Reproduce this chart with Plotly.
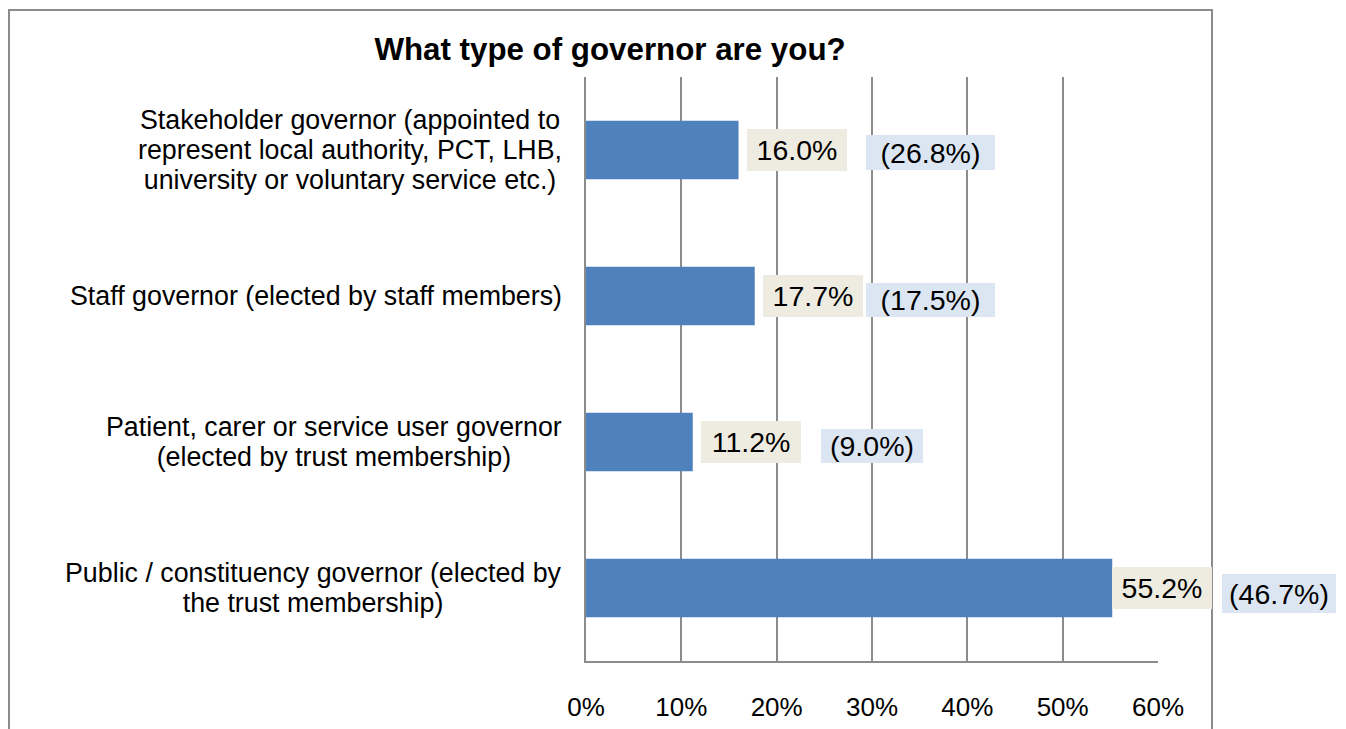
import plotly.graph_objects as go

# Survey data: share of respondents by governor type
categories = [
    "Stakeholder governor (appointed to<br>represent local authority, PCT, LHB,<br>university or voluntary service etc.)",
    "Staff governor (elected by staff members)",
    "Patient, carer or service user governor<br>(elected by trust membership)",
    "Public / constituency governor (elected by<br>the trust membership)",
]
current_pct = [16.0, 17.7, 11.2, 55.2]
previous_pct = [26.8, 17.5, 9.0, 46.7]
tick_values = [0, 10, 20, 30, 40, 50, 60]
tick_labels = ["0%", "10%", "20%", "30%", "40%", "50%", "60%"]

FONT = "Liberation Sans, Arial, sans-serif"
BAR_BLUE = "#4f81bd"
BEIGE = "#eeece1"
PALE_BLUE = "#dce6f2"
GRID = "#8c8c8c"

# plot area in pixels
L, R, T, B = 586, 188, 77, 68
W, H = 1346, 729
PW, PH = W - L - R, H - T - B
X_MAX = 60

ids = list(range(len(categories)))

fig = go.Figure(
    go.Bar(
        x=current_pct,
        y=ids,
        orientation="h",
        marker=dict(color=BAR_BLUE, line=dict(width=0)),
        hoverinfo="skip",
    )
)

annotations = []

# category labels, centred lines, right-aligned block
for i, cat in enumerate(categories):
    lines = cat.split("<br>")
    txt = "<br>".join(f'<span style="font-size:26.8px">{ln}</span>' for ln in lines)
    annotations.append(dict(
        x=0, xref="paper", y=i, yref="y",
        text=txt, showarrow=False,
        xanchor="right", yanchor="middle", align="center",
        xshift=-22,
        font=dict(family=FONT, size=23, color="#000000"),
    ))

# value labels for this year's bars
label_gap = [8, 8, 8, 0]
for i, v in enumerate(current_pct):
    annotations.append(dict(
        x=v, xref="x", y=i, yref="y",
        text=f"{v:.1f}%", showarrow=False,
        xanchor="left", yanchor="middle", align="center", valign="middle",
        xshift=label_gap[i],
        width=100, height=42, borderpad=0, borderwidth=0,
        bgcolor=BEIGE,
        font=dict(family=FONT, size=28.5, color="#000000"),
    ))

# previous figures in brackets (left edge given in axis units, may sit past the axis end)
prev_left = [29.37, 29.37, 24.65, 66.72]
prev_width = [129, 129, 102, 114]
prev_height = [35, 34, 34, 39]
prev_dy = [-2.5, -4, -4, -5.5]
for i, v in enumerate(previous_pct):
    annotations.append(dict(
        x=prev_left[i] / X_MAX, xref="paper", y=i, yref="y",
        text=f"({v:.1f}%)", showarrow=False,
        xanchor="left", yanchor="middle", align="center", valign="middle",
        yshift=prev_dy[i],
        width=prev_width[i], height=prev_height[i], borderpad=0, borderwidth=0,
        bgcolor=PALE_BLUE,
        font=dict(family=FONT, size=28.5, color="#000000"),
    ))

# chart frame
frame = dict(
    type="rect", xref="paper", yref="paper",
    x0=(9 - L) / PW, x1=(1212 - L) / PW,
    y0=(PH - (745 - T)) / PH, y1=(PH - (10 - T)) / PH,
    line=dict(color=GRID, width=2), fillcolor="rgba(0,0,0,0)", layer="below",
)

fig.update_layout(
    width=W, height=H,
    margin=dict(l=L, r=R, t=T, b=B, pad=0, autoexpand=False),
    paper_bgcolor="white", plot_bgcolor="white",
    showlegend=False,
    bargap=0.6,
    title=dict(
        text="What type of governor are you?",
        x=610 / W, xanchor="center",
        y=1 - 49 / H, yanchor="middle",
        font=dict(family=FONT, size=31.3, color="#000000", weight="bold"),
    ),
    xaxis=dict(
        range=[0, X_MAX], tickvals=tick_values, ticktext=tick_labels,
        showgrid=True, gridcolor=GRID, gridwidth=1.5,
        zeroline=False, showline=True, linecolor=GRID, linewidth=1.5,
        ticks="", ticklabelstandoff=22, automargin=False,
        tickfont=dict(family=FONT, size=26, color="#000000"),
        fixedrange=True,
    ),
    yaxis=dict(
        range=[len(categories) - 0.5, -0.5],
        showticklabels=False, showgrid=False, zeroline=False,
        showline=True, linecolor=GRID, linewidth=1.5, ticks="",
        automargin=False, fixedrange=True,
    ),
    annotations=annotations,
    shapes=[frame],
)

fig.write_html("out.html", config={"displayModeBar": False})
